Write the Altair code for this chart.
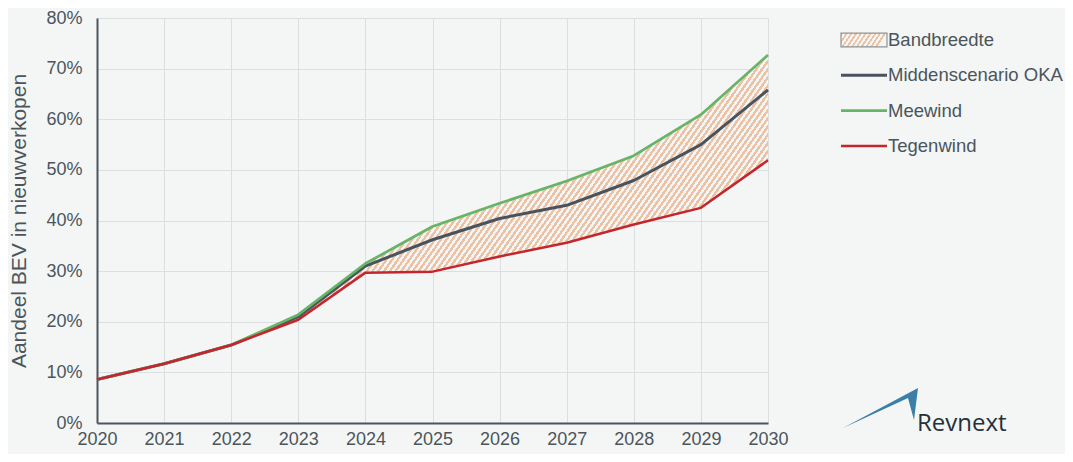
import altair as alt
import pandas as pd

years = [2020, 2021, 2022, 2023, 2024, 2025, 2026, 2027, 2028, 2029, 2030]
meewind = [8.6, 11.7, 15.4, 21.4, 31.5, 38.8, 43.4, 47.8, 52.8, 60.9, 72.7]
midden = [8.6, 11.7, 15.4, 21.0, 31.0, 36.2, 40.4, 43.0, 47.9, 55.0, 65.8]
tegenwind = [8.6, 11.7, 15.4, 20.4, 29.7, 29.9, 32.9, 35.6, 39.2, 42.5, 51.9]

series_names = ["Middenscenario OKA", "Meewind", "Tegenwind"]
series_colors = ["#48535e", "#66b566", "#c4262e"]
series_widths = [3, 2.5, 3.5]
legend_labels = ["Bandbreedte", "Middenscenario OKA", "Meewind", "Tegenwind"]
y_ticks = [0, 10, 20, 30, 40, 50, 60, 70, 80]

BG = "#f4f5f5"
TXT = "#4b555b"
HATCH = "#edc2a4"
FONT = "Liberation Sans"


def hatch(n, frac, x2, y2):
    stops = []
    for i in range(n):
        a = i / n
        b = (i + frac) / n
        c = (i + 1) / n
        stops += [alt.GradientStop(color=HATCH, offset=a), alt.GradientStop(color=HATCH, offset=b),
                  alt.GradientStop(color=BG, offset=b), alt.GradientStop(color=BG, offset=c)]
    return alt.Gradient(gradient="linear", stops=stops, x1=0, y1=0, x2=x2, y2=y2)


band_df = pd.DataFrame({"year": years, "low": tegenwind, "high": meewind})
rows = []
for name, vals in zip(series_names, [midden, meewind, tegenwind]):
    for yr, v in zip(years, vals):
        rows.append({"year": yr, "series": name, "value": v})
lines_df = pd.DataFrame(rows)
order = {"Meewind": 0, "Middenscenario OKA": 1, "Tegenwind": 2}
lines_df["z"] = lines_df["series"].map(order)

x_enc = alt.X("year:Q", scale=alt.Scale(domain=[2020, 2030], nice=False),
              axis=alt.Axis(values=years, format="d", title=None, labelFontSize=18, labelColor=TXT,
                            labelFont=FONT, labelPadding=7, ticks=False, domainColor="#4b565c",
                            domainWidth=2, gridColor="#dcdfe0", labelFlush=False))
y_scale = alt.Scale(domain=[0, 80], nice=False)
y_axis = alt.Axis(values=y_ticks, labelExpr="datum.value + '%'", title="Aandeel BEV in nieuwverkopen",
                  labelFontSize=18, labelColor=TXT, labelFont=FONT, labelPadding=15, ticks=False,
                  domainColor="#4b565c", domainWidth=2, gridColor="#dcdfe0", titleFont=FONT,
                  titleFontSize=21, titleFontWeight="normal", titleColor=TXT, titlePadding=16)

band = alt.Chart(band_df).mark_area(fill=hatch(130, 0.5, 1, 0.34), line=False).encode(
    x=x_enc,
    y=alt.Y("low:Q", scale=y_scale, axis=y_axis),
    y2="high:Q",
)

color_scale = alt.Scale(domain=series_names, range=series_colors)
width_scale = alt.Scale(domain=series_names, range=series_widths)

lines = alt.Chart(lines_df).mark_line(strokeJoin="round").encode(
    x=x_enc,
    y=alt.Y("value:Q", scale=y_scale),
    color=alt.Color("series:N", scale=color_scale, legend=None),
    strokeWidth=alt.StrokeWidth("series:N", scale=width_scale, legend=None),
    detail="series:N",
    order="z:Q",
)

main = alt.layer(band, lines)

leg_df = pd.DataFrame({"label": legend_labels})
leg_y = alt.Y("label:N", scale=alt.Scale(type="point", domain=legend_labels, range=[22, 128], padding=0), axis=None)

leg_rules = alt.Chart(pd.DataFrame({"label": series_names, "series": series_names})).mark_rule().encode(
    x=alt.value(744), x2=alt.value(790), y=leg_y,
    color=alt.Color("series:N", scale=color_scale, legend=None),
    strokeWidth=alt.StrokeWidth("series:N", scale=width_scale, legend=None),
)
leg_box = alt.Chart(pd.DataFrame({"label": ["Bandbreedte"]})).mark_point(
    shape="M-1,-0.3L1,-0.3L1,0.3L-1,0.3Z", size=2116, filled=True, opacity=1,
    fill=hatch(10, 0.45, 1, 0.2), stroke="#8f9494", strokeWidth=1.2,
).encode(x=alt.value(767), y=leg_y)
leg_text = alt.Chart(leg_df).mark_text(align="left", baseline="middle", fontSize=18.5, font=FONT, color=TXT).encode(
    x=alt.value(791), y=leg_y, text="label:N"
)
legend = alt.layer(leg_rules, leg_box, leg_text)

logo_df = pd.DataFrame({"logo": ["Revnext"]})
logo_mark = alt.Chart(logo_df).mark_point(
    shape="M-0.925,0.5L0.95,-0.5L0.85,0.3L0.7,-0.25Z", size=6400, filled=True, opacity=1,
    fill="#3b7fa8", strokeWidth=0,
).encode(x=alt.value(783), y=alt.value(390))
logo_text = alt.Chart(logo_df).mark_text(align="left", baseline="middle", fontSize=24, font="Open Sans",
                                         color="#24313a").encode(
    x=alt.value(820), y=alt.value(406), text="logo:N"
)

chart = alt.layer(main, legend, logo_mark, logo_text).resolve_scale(y="independent").properties(
    width=671, height=405,
    autosize=alt.AutoSizeParams(type="none"),
    padding={"left": 89, "top": 10, "right": 297, "bottom": 31},
    background=BG,
).configure_view(stroke=None)

chart.save("out.html", embed_options={"renderer": "svg", "actions": False})
